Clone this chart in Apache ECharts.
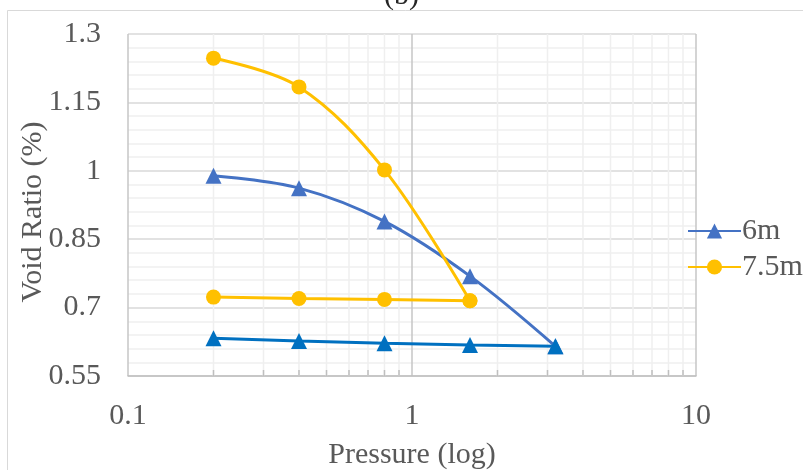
<!DOCTYPE html>
<html>
<head>
<meta charset="utf-8">
<script src="https://cdn.jsdelivr.net/npm/echarts@6/dist/echarts.min.js"></script>
<style>html,body{margin:0;padding:0;background:#fff;}#c{width:803px;height:470px;}</style>
</head>
<body>
<div id="c"></div>
<script>
// Data
const pressure6mLoad = [0.2, 0.4, 0.8, 1.6, 3.2];
const void6mLoad = [0.989, 0.962, 0.889, 0.769, 0.615];
const pressure6mUnload = [3.2, 1.6, 0.8, 0.4, 0.2];
const void6mUnload = [0.615, 0.618, 0.622, 0.627, 0.633];
const pressure75Load = [0.2, 0.4, 0.8, 1.6];
const void75Load = [1.247, 1.184, 1.002, 0.715];
const pressure75Unload = [1.6, 0.8, 0.4, 0.2];
const void75Unload = [0.715, 0.718, 0.720, 0.723];
const minorX = [0.2,0.3,0.4,0.5,0.6,0.7,0.8,0.9,2,3,4,5,6,7,8,9];
const seriesNames = ['6m', '7.5m'];

const zip = (xs, ys) => xs.map((x, i) => [x, ys[i]]);
const font = 'Liberation Serif, Times New Roman, serif';

const chart = echarts.init(document.getElementById('c'));
chart.setOption({
  backgroundColor: '#fff',
  animation: false,
  title: {
    text: '(b)', left: 'center', top: -24,
    textStyle: { fontFamily: font, fontSize: 30, fontWeight: 'normal', color: '#262626' }
  },
  graphic: [{
    type: 'rect', silent: true, z: -10,
    shape: { x: 7.5, y: 10.5, width: 900, height: 600 },
    style: { fill: 'none', stroke: '#d9d9d9', lineWidth: 1 }
  }],
  grid: { left: 128, right: 107, top: 34, bottom: 94, containLabel: false, outerBoundsMode: 'none' },
  legend: {
    data: seriesNames, orient: 'vertical', left: 682, top: 211,
    itemWidth: 53, itemHeight: 19, itemGap: 6,
    textStyle: { fontFamily: font, fontSize: 30, color: '#595959', padding: [0,0,0,-4] }
  },
  xAxis: {
    type: 'log', logBase: 10, min: 0.1, max: 10,
    name: 'Pressure (log)', nameLocation: 'middle', nameGap: 64, nameMoveOverlap: false,
    nameTextStyle: { fontFamily: font, fontSize: 30, color: '#595959' },
    axisLine: { show: true, lineStyle: { color: '#bfbfbf', width: 1.5 } },
    axisTick: { show: false },
    axisLabel: { fontFamily: font, fontSize: 30, color: '#595959', margin: 25 },
    splitLine: { show: true, lineStyle: { color: '#c6c6c6', width: 1.5 } },
    minorTick: { show: false }, minorSplitLine: { show: false }
  },
  yAxis: {
    type: 'value', min: 0.55, max: 1.3, interval: 0.15,
    name: 'Void Ratio (%)', nameLocation: 'middle', nameGap: 80, nameMoveOverlap: false,
    nameTextStyle: { fontFamily: font, fontSize: 30, color: '#595959', padding: [0, 14, 0, 0] },
    axisLine: { show: false }, axisTick: { show: false },
    axisLabel: { fontFamily: font, fontSize: 30, color: '#595959', margin: 27 },
    splitLine: { show: true, lineStyle: { color: '#d9d9d9', width: 1.5 } },
    minorTick: { show: false, splitNumber: 5 },
    minorSplitLine: { show: true, lineStyle: { color: '#efefef', width: 1.5 } }
  },
  series: [
    {
      type: 'custom', name: 'minorgrid', silent: true, z: 1,
      data: minorX.map(v => [v]),
      encode: { x: 0 },
      renderItem: function (params, api) {
        const x = api.value(0);
        const top = api.coord([x, 1.3]);
        const bot = api.coord([x, 0.55]);
        return {
          type: 'group', children: [
            { type: 'line', shape: { x1: top[0], y1: top[1], x2: bot[0], y2: bot[1] },
              style: { stroke: '#efefef', lineWidth: 1.5 } },
            { type: 'line', shape: { x1: bot[0], y1: bot[1] - 6, x2: bot[0], y2: bot[1] },
              style: { stroke: '#bfbfbf', lineWidth: 1.5 } }
          ]
        };
      }
    },
    {
      name: '6m', type: 'line', smooth: 0.35, z: 5,
      data: zip(pressure6mLoad, void6mLoad),
      symbol: 'triangle', symbolSize: 16,
      lineStyle: { color: '#4472C4', width: 3 },
      itemStyle: { color: '#4472C4' }
    },
    {
      name: '6m unloading', type: 'line', z: 5,
      data: zip(pressure6mUnload, void6mUnload),
      symbol: 'triangle', symbolSize: 16,
      lineStyle: { color: '#0070C0', width: 3 },
      itemStyle: { color: '#0070C0' }
    },
    {
      name: '7.5m', type: 'line', smooth: 0.35, z: 6,
      data: zip(pressure75Load, void75Load),
      symbol: 'circle', symbolSize: 15,
      lineStyle: { color: '#FFC000', width: 3 },
      itemStyle: { color: '#FFC000' }
    },
    {
      name: '7.5m unloading', type: 'line', z: 6,
      data: zip(pressure75Unload, void75Unload),
      symbol: 'circle', symbolSize: 15,
      lineStyle: { color: '#FFC000', width: 3 },
      itemStyle: { color: '#FFC000' }
    }
  ]
});
</script>
</body>
</html>
